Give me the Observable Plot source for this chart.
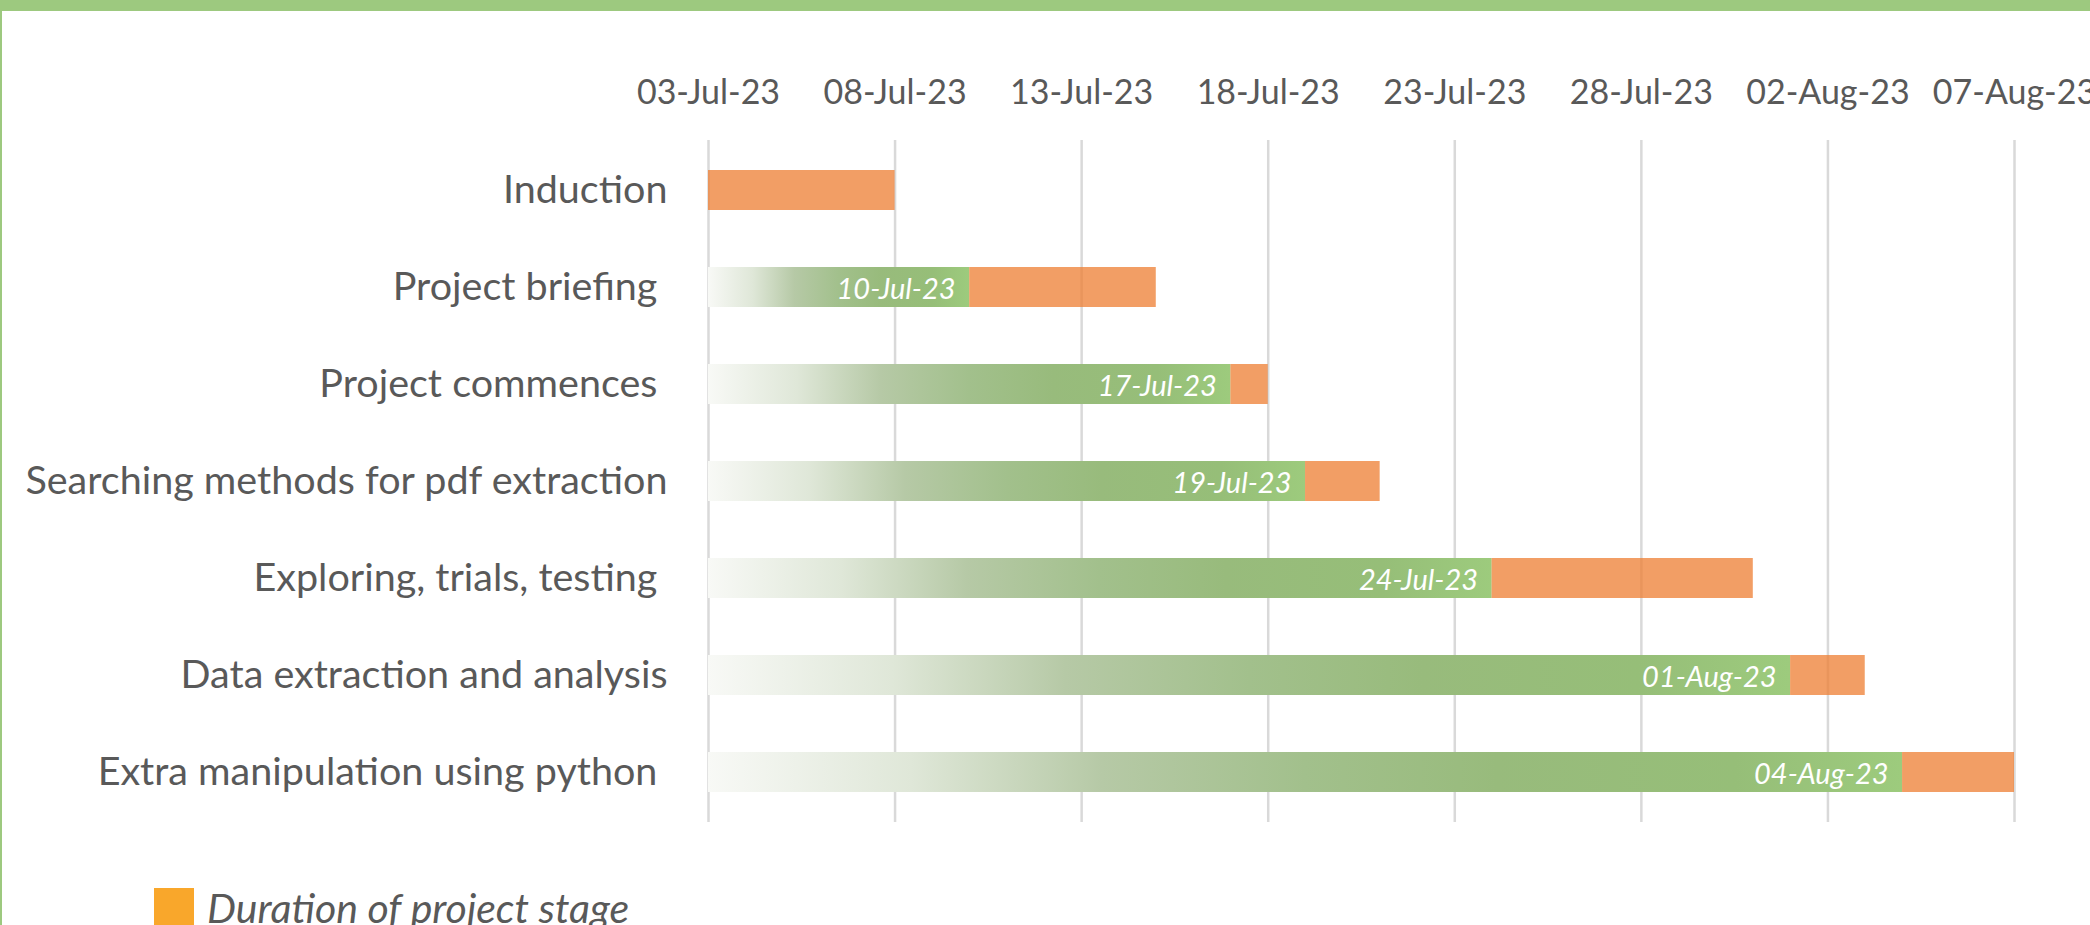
<!DOCTYPE html>
<html>
<head>
<meta charset="utf-8">
<script src="https://cdn.jsdelivr.net/npm/d3@7"></script>
<script src="https://cdn.jsdelivr.net/npm/@observablehq/plot@0.6"></script>
<style>
  html, body { margin: 0; padding: 0; background: #fff; overflow: hidden; }
  body { width: 2090px; height: 925px; position: relative; font-family: Lato, "Open Sans", sans-serif; }
  #frameTop { position: absolute; left: 0; top: 0; width: 2090px; height: 11px; background: #9DC97F; }
  #frameLeft { position: absolute; left: 0; top: 0; width: 2px; height: 925px; background: #9DC97F; }
  #legend { position: absolute; left: 154px; top: 888px; display: flex; align-items: center; height: 40px; }
  #legend .sw { width: 40px; height: 40px; background: #F9A72B; margin-right: 13px; }
  #legend .lb { font-style: italic; font-size: 41px; line-height: 40px; color: #595959; white-space: nowrap; }
</style>
</head>
<body>
<div id="chart"></div>
<div id="legend"><div class="sw"></div><div class="lb"></div></div>
<div id="frameTop"></div>
<div id="frameLeft"></div>
<script>
// ---- data ----
const tasks = [
  "Induction",
  "Project briefing ",
  "Project commences ",
  "Searching methods for pdf extraction",
  "Exploring, trials, testing ",
  "Data extraction and analysis",
  "Extra manipulation using python "
];
const startDates = ["2023-07-03", "2023-07-10", "2023-07-17", "2023-07-19", "2023-07-24", "2023-08-01", "2023-08-04"];
const durations = [5, 5, 1, 2, 7, 2, 3];
const tickDates = ["2023-07-03", "2023-07-08", "2023-07-13", "2023-07-18", "2023-07-23", "2023-07-28", "2023-08-02", "2023-08-07"];
const axisStart = "2023-07-03";
const axisEnd = "2023-08-07";
const legendLabel = "Duration of project stage";

// ---- build table ----
const DAY = 86400000;
const origin = new Date(axisStart);
const rows = tasks.map((t, i) => {
  const s = new Date(startDates[i]);
  return { task: t, start: s, end: new Date(+s + durations[i] * DAY) };
});
const greenRows = rows.filter(d => +d.start > +origin);
const fmt = d3.utcFormat("%d-%b-%y");

const gradientDefs = () => {
  const ns = "http://www.w3.org/2000/svg";
  const defs = document.createElementNS(ns, "defs");
  const g = document.createElementNS(ns, "linearGradient");
  g.setAttribute("id", "greenGrad");
  g.setAttribute("x1", "0"); g.setAttribute("x2", "1");
  g.setAttribute("y1", "0"); g.setAttribute("y2", "0");
  [[0, "#F8F9F6"], [0.17, "#DFE7D8"], [0.33, "#B6C9A6"], [0.5, "#A2C08C"], [0.66, "#98BB7C"], [0.86, "#96BE78"], [1, "#9DCB7D"]]
    .forEach(([o, c]) => {
      const s = document.createElementNS(ns, "stop");
      s.setAttribute("offset", o);
      s.setAttribute("stop-color", c);
      g.appendChild(s);
    });
  defs.appendChild(g);
  return defs;
};

const chart = Plot.plot({
  width: 2090,
  height: 868,
  marginLeft: 708,
  marginRight: 76,
  marginTop: 140,
  marginBottom: 46,
  style: { fontFamily: "Lato, 'Open Sans', sans-serif", fontSize: "34px", color: "#595959", background: "transparent", overflow: "visible" },
  x: { type: "utc", domain: [new Date(axisStart), new Date(axisEnd)] },
  y: { type: "band", domain: tasks, paddingInner: 0.589, paddingOuter: 0.298 },
  marks: [
    gradientDefs,
    Plot.gridX(tickDates.map(d => new Date(d)), { stroke: "#D9D9D9", strokeOpacity: 1, strokeWidth: 2.5 }),
    Plot.axisX(tickDates.map(d => new Date(d)), { anchor: "top", tickSize: 0, tickPadding: 37, tickFormat: fmt, fontSize: 34, fill: "#595959", label: null }),
    Plot.axisY({ anchor: "left", tickSize: 0, tickPadding: 41, fontSize: 39.5, fill: "#595959", label: null, tickFormat: d => d.replace(/ $/, "\u00a0") }),
    Plot.barX(greenRows, { x1: () => origin, x2: "start", y: "task", fill: "url(#greenGrad)" }),
    Plot.barX(rows, { x1: "start", x2: "end", y: "task", fill: "#ED7D31", fillOpacity: 0.75 }),
    Plot.text(greenRows, { x: "start", y: "task", text: d => fmt(d.start), textAnchor: "end", dx: -14, dy: 2, fill: "white", fontStyle: "italic", fontSize: 29 })
  ]
});
document.getElementById("chart").appendChild(chart);
document.querySelector("#legend .lb").textContent = legendLabel;
</script>
</body>
</html>
